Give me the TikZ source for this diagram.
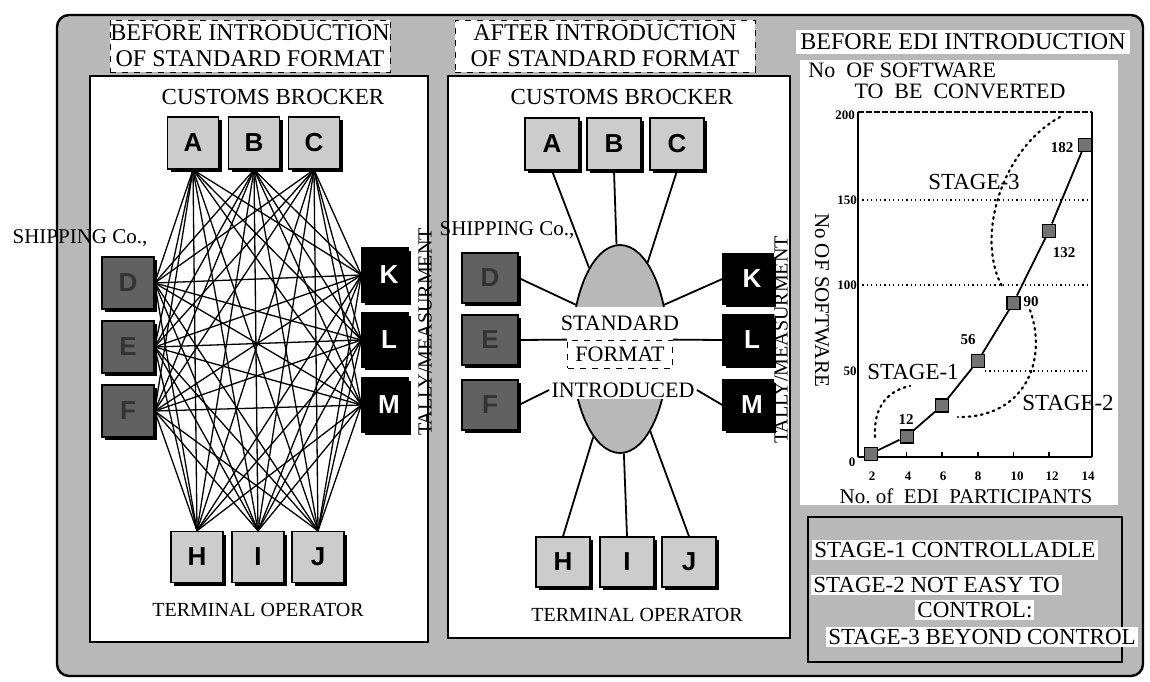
\documentclass[tikz,border=0pt]{standalone}
\usepackage{fontspec}
\setmainfont{Liberation Serif}
\newfontfamily\boxfont{Liberation Sans}
\usetikzlibrary{shadows,shapes.geometric}
\newcommand\myfs[1]{\fontsize{#1}{#1}\selectfont}
\begin{document}
\begin{tikzpicture}[x=0.5pt,y=-0.5pt,
  stip/.style={fill=black!28},
  bx/.style={draw=black, line width=0.7pt, inner sep=0pt, font=\boxfont\bfseries\myfs{13},
    drop shadow={shadow xshift=1.6pt, shadow yshift=-1.6pt, fill=black, opacity=1}},
  lbx/.style={bx, fill=black!20},
  dbx/.style={bx, fill=black!62, text=black!80},
  kbx/.style={bx, fill=black, text=white},
  lab/.style={font=\myfs{11.5}, inner sep=1pt},
  mesh/.style={line width=0.65pt},
  conn/.style={line width=0.9pt},
  dots/.style={line width=1.1pt, dash pattern=on 0.9pt off 2.2pt, line cap=round},
  grid/.style={line width=0.6pt, dash pattern=on 0.6pt off 1.6pt},
  mk/.style={draw=black, fill=black!55, minimum size=6.5pt, inner sep=0pt, line width=0.6pt},
  tk/.style={font=\bfseries\myfs{6.5}, inner sep=0.5pt},
  dl/.style={font=\bfseries\myfs{7.5}, inner sep=0.5pt},
]
\useasboundingbox (0,0) rectangle (1150,681);
% outer frame and panels
\draw[stip, line width=1.2pt, rounded corners=6pt] (57,15) rectangle (1143,676);
\draw[fill=white, line width=1.2pt] (90,76) rectangle (428,642);
\draw[fill=white, line width=1.2pt] (448,76) rectangle (790,638);
\fill[white] (800,60) rectangle (1118,505);

% titles
\node[draw, dashed, fill=white, align=center, font=\myfs{12}, minimum width=140pt, minimum height=26pt, inner sep=0pt] (t1) at (250,46) {BEFORE INTRODUCTION\\[1pt]OF STANDARD FORMAT};
\node[draw, dashed, fill=white, align=center, font=\myfs{12}, minimum width=150pt, minimum height=26pt, inner sep=0pt] (t2) at (605,46) {AFTER INTRODUCTION\\[1pt]OF STANDARD FORMAT};

%================ LEFT PANEL
\node[lab] (cb1) at (273,97) {CUSTOMS BROCKER};
\node[lab, font=\myfs{10}] (to1) at (258,610) {TERMINAL OPERATOR};
\node[lab, font=\myfs{10.5}] (sh1) at (80,238) {SHIPPING Co.,};
\node[lab, font=\myfs{10}, rotate=90] (ta1) at (425,332) {TALLY/MEASURMENT};

\foreach \n/\x in {A/193,B/254,C/314}
  \node[lbx, minimum width=25.5pt, minimum height=26pt] (\n) at (\x,143) {\n};
\foreach \n/\y in {D/283,E/347,F/411}
  \node[dbx, minimum width=26pt, minimum height=26pt] (\n) at (128,\y) {\n};
\foreach \n/\y in {K/275,L/340,M/405}
  \node[kbx, minimum width=23pt, minimum height=27pt] (\n) at (385,\y) {\hspace*{4pt}\n};
\foreach \n/\x in {H/197,I/258,J/318}
  \node[lbx, minimum width=26pt, minimum height=25.5pt] (\n) at (\x,557) {\n};

\foreach \t in {A,B,C}{
  \foreach \l in {D,E,F}{\draw[mesh] (\t.south) -- (\l.east);}
  \foreach \r in {K,L,M}{\draw[mesh] (\t.south) -- (\r.west);}
  \foreach \b in {H,I,J}{\draw[mesh] (\t.south) -- (\b.north);}
}
\foreach \l in {D,E,F}{
  \foreach \r in {K,L,M}{\draw[mesh] (\l.east) -- (\r.west);}
  \foreach \b in {H,I,J}{\draw[mesh] (\l.east) -- (\b.north);}
}
\foreach \r in {K,L,M}{
  \foreach \b in {H,I,J}{\draw[mesh] (\r.west) -- (\b.north);}
}

%================ MIDDLE PANEL
\node[lab] (cb2) at (622,97) {CUSTOMS BROCKER};
\node[lab, font=\myfs{10}] (to2) at (637,615) {TERMINAL OPERATOR};
\node[lab, font=\myfs{10.5}] (sh2) at (507,230) {SHIPPING Co.,};
\node[lab, font=\myfs{10}, rotate=90] (ta2) at (781,340) {TALLY/MEASURMENT};

\foreach \n/\x in {A/552,B/614,C/677}
  \node[lbx, minimum width=27pt, minimum height=26pt] (\n2) at (\x,144) {\n};
\foreach \n/\y in {D/278,E/340,F/405}
  \node[dbx, minimum width=28pt, minimum height=25pt] (\n2) at (490,\y) {\n};
\foreach \n/\y in {K/279,L/340,M/405}
  \node[kbx, minimum width=25pt, minimum height=25pt] (\n2) at (748,\y) {\hspace*{4pt}\n};
\foreach \n/\x in {H/563,I/627,J/689}
  \node[lbx, minimum width=27pt, minimum height=25pt] (\n2) at (\x,562) {\n};

\node[ellipse, draw, line width=0.9pt, stip, minimum width=48pt, minimum height=104pt, inner sep=0pt] (std) at (620,349) {};
\fill[white] (555,307) rectangle (685,398);
\node[lab, font=\myfs{11}, fill=white] (st) at (620,323) {STANDARD};
\node[lab, font=\myfs{11}, fill=white, draw, dashed, minimum width=52.5pt, minimum height=14pt] (fmt) at (620,354) {FORMAT};
\node[lab, font=\myfs{11}, fill=white] (intro) at (623,390) {INTRODUCED};

\foreach \n in {A2,B2,C2}{\draw[conn] (\n.south) -- (std);}
\foreach \n in {H2,I2,J2}{\draw[conn] (\n.north) -- (std);}
\draw[conn] (D2.east) -- (std.135);
\draw[conn] (K2.west) -- (std.45);
\draw[conn] (E2.east) -- (fmt.north west);
\draw[conn] (L2.west) -- (fmt.north east);
\draw[conn] (F2.east) -- (intro.west);
\draw[conn] (M2.west) -- (intro.east);

%================ RIGHT PANEL (chart)
\node[lab, font=\myfs{12}, fill=white, inner sep=2pt] (ct1) at (963,42) {BEFORE EDI INTRODUCTION};
\node[font=\myfs{11}, fill=white, anchor=west, inner sep=0pt] (ct2) at (808,70) {No\enspace OF SOFTWARE};
\node[font=\myfs{11}, inner sep=0pt] (ct3) at (960,91) {TO\enspace BE\enspace CONVERTED};

% grid and frame
\draw[grid] (858,200) -- (1092,200);
\draw[grid] (858,285) -- (1092,285);
\draw[grid] (985,371) -- (1092,371);
\draw[line width=0.7pt, dash pattern=on 3pt off 1pt] (858,112) -- (1092,112);
\draw[line width=1.3pt] (858,112) -- (858,457);
\draw[line width=1.3pt] (1092,112) -- (1092,457);
\draw[line width=0.8pt] (858,457) -- (1092,457);
\foreach \x in {906.6,942.2,977.8,1013.4,1049} \draw[line width=0.8pt] (\x,457) -- (\x,452);

% tick labels
\node[tk] (y200) at (845,115) {200};
\node[tk] (y150) at (847,200) {150};
\node[tk] (y100) at (847,285) {100};
\node[tk] (y50) at (850,371) {50};
\node[tk] (y0) at (852,462) {0};
\foreach \v/\x in {2/872,4/908,6/943,8/978,10/1017,12/1052,14/1088}
  \node[tk] (x\v) at (\x,476) {\v};
\node[lab, font=\myfs{10.5}, rotate=-90] (yt) at (822,300) {No OF SOFTWARE};
\node[lab, font=\myfs{10.5}] (xt) at (966,496) {No.\ of\enspace EDI\enspace PARTICIPANTS};

% stage boundaries
\draw[dots] (1060,117) .. controls (1000,150) and (975,240) .. (1003,288);
\draw[dots] (1030,310) .. controls (1048,360) and (1025,418) .. (958,417);
\draw[dots] (875,437) .. controls (873,405) and (890,390) .. (910,386);

% data
\node[mk] (p2) at (871,453.6) {};
\node[mk] (p4) at (906.6,436.4) {};
\node[mk] (p6) at (942.2,405.5) {};
\node[mk] (p8) at (977.8,361) {};
\node[mk] (p10) at (1013.4,302.7) {};
\node[mk] (p12) at (1049,230.6) {};
\node[mk] (p14) at (1084.6,144.9) {};
\draw[conn] (p2) -- (p4) -- (p6) -- (p8) -- (p10) -- (p12) -- (p14);
\node[dl] (l12) at (906,420) {12};
\node[dl] (l56) at (968,340) {56};
\node[dl] (l90) at (1031,302) {90};
\node[dl] (l132) at (1064,253) {132};
\node[dl] (l182) at (1062,148) {182};

\node[lab] (s3) at (974,182) {STAGE-3};
\node[lab, fill=white, inner sep=0.5pt] (s1) at (913,372) {STAGE-1};
\node[lab] (s2) at (1068,403) {STAGE-2};

% legend
\draw[stip, line width=1pt] (808,517) rectangle (1122,662);
\node[lab, font=\myfs{11.5}, fill=white, anchor=west] (g1) at (812,550) {STAGE-1 CONTROLLADLE};
\node[lab, font=\myfs{11.5}, fill=white, anchor=west] (g2) at (811,585) {STAGE-2 NOT EASY TO};
\node[lab, font=\myfs{11.5}, fill=white, anchor=west] (g3) at (915,610) {CONTROL:};
\node[lab, font=\myfs{11.5}, fill=white, anchor=west] (g4) at (826,637) {STAGE-3 BEYOND CONTROL};
\end{tikzpicture}
\end{document}
